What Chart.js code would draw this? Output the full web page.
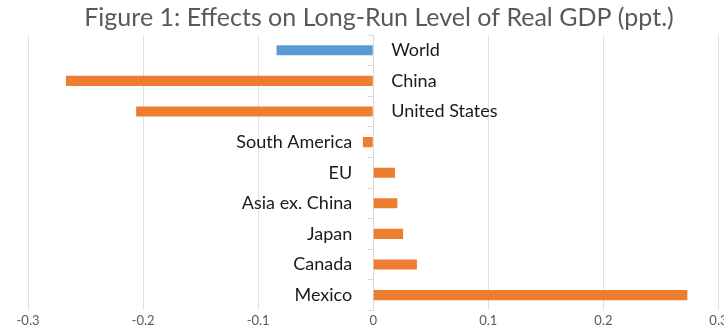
<!DOCTYPE html>
<html lang="en">
<head>
    <meta charset="UTF-8">
    <title>Figure 1</title>
    <script src="https://cdn.jsdelivr.net/npm/chart.js"></script>
    <style>
        body { margin: 0; overflow: hidden; background: #fff; }
        #wrap { width: 730px; height: 333px; }
    </style>
</head>
<body>
<div id="wrap"><canvas id="myChart"></canvas></div>
<script>
    // data
    const regions = ['World', 'China', 'United States', 'South America', 'EU', 'Asia ex. China', 'Japan', 'Canada', 'Mexico'];
    const gdpEffect = [-0.084, -0.267, -0.206, -0.009, 0.019, 0.021, 0.026, 0.038, 0.273];
    const xMin = -0.3, xMax = 0.3, xStep = 0.1;

    const blue = '#5B9BD5';
    const orange = '#ED7D31';

    // region names sit by the zero line, left of it unless the bar would run into the text
    const barLabels = {
        id: 'barLabels',
        afterDatasetsDraw(chart) {
            const ctx = chart.ctx;
            const x0 = chart.scales.x.getPixelForValue(0);
            const meta = chart.getDatasetMeta(0);
            ctx.save();
            ctx.font = '18px Lato';
            ctx.fillStyle = '#1a1a1a';
            ctx.textBaseline = 'middle';
            meta.data.forEach((bar, i) => {
                if (bar.x < x0 - 21) {
                    ctx.textAlign = 'left';
                    ctx.fillText(regions[i], x0 + 18, bar.y);
                } else {
                    ctx.textAlign = 'right';
                    ctx.fillText(regions[i], x0 - 21, bar.y);
                }
            });
            ctx.restore();
        }
    };

    const data = {
        labels: regions,
        datasets: [{
            data: gdpEffect,
            backgroundColor: regions.map(r => r === 'World' ? blue : orange),
            barPercentage: 0.33,
            categoryPercentage: 1
        }]
    };

    const config = {
        type: 'bar',
        data: data,
        options: {
            indexAxis: 'y',
            responsive: true,
            maintainAspectRatio: false,
            animation: false,
            layout: { padding: { left: 28, top: 0, bottom: 2, right: 0 } },
            plugins: {
                legend: { display: false },
                tooltip: { enabled: false },
                title: {
                    display: true,
                    text: 'Figure 1: Effects on Long-Run Level of Real GDP (ppt.)',
                    color: '#595959',
                    font: { family: 'Lato', size: 25, weight: 'normal' },
                    padding: { top: 3, bottom: 2 }
                }
            },
            scales: {
                x: {
                    min: xMin,
                    max: xMax,
                    ticks: {
                        stepSize: xStep,
                        color: '#595959',
                        font: { family: 'Lato', size: 13 },
                        padding: 2.5
                    },
                    grid: { color: '#e0e0e0', drawTicks: false },
                    border: { display: false }
                },
                y: {
                    position: { x: 0 },
                    ticks: { display: false },
                    grid: { drawOnChartArea: false, offset: true, tickLength: 5, color: '#d9d9d9' },
                    border: { display: true, color: '#d9d9d9' }
                }
            }
        },
        plugins: [barLabels]
    };

    const myChart = new Chart(document.querySelector('#myChart'), config);
</script>
</body>
</html>
